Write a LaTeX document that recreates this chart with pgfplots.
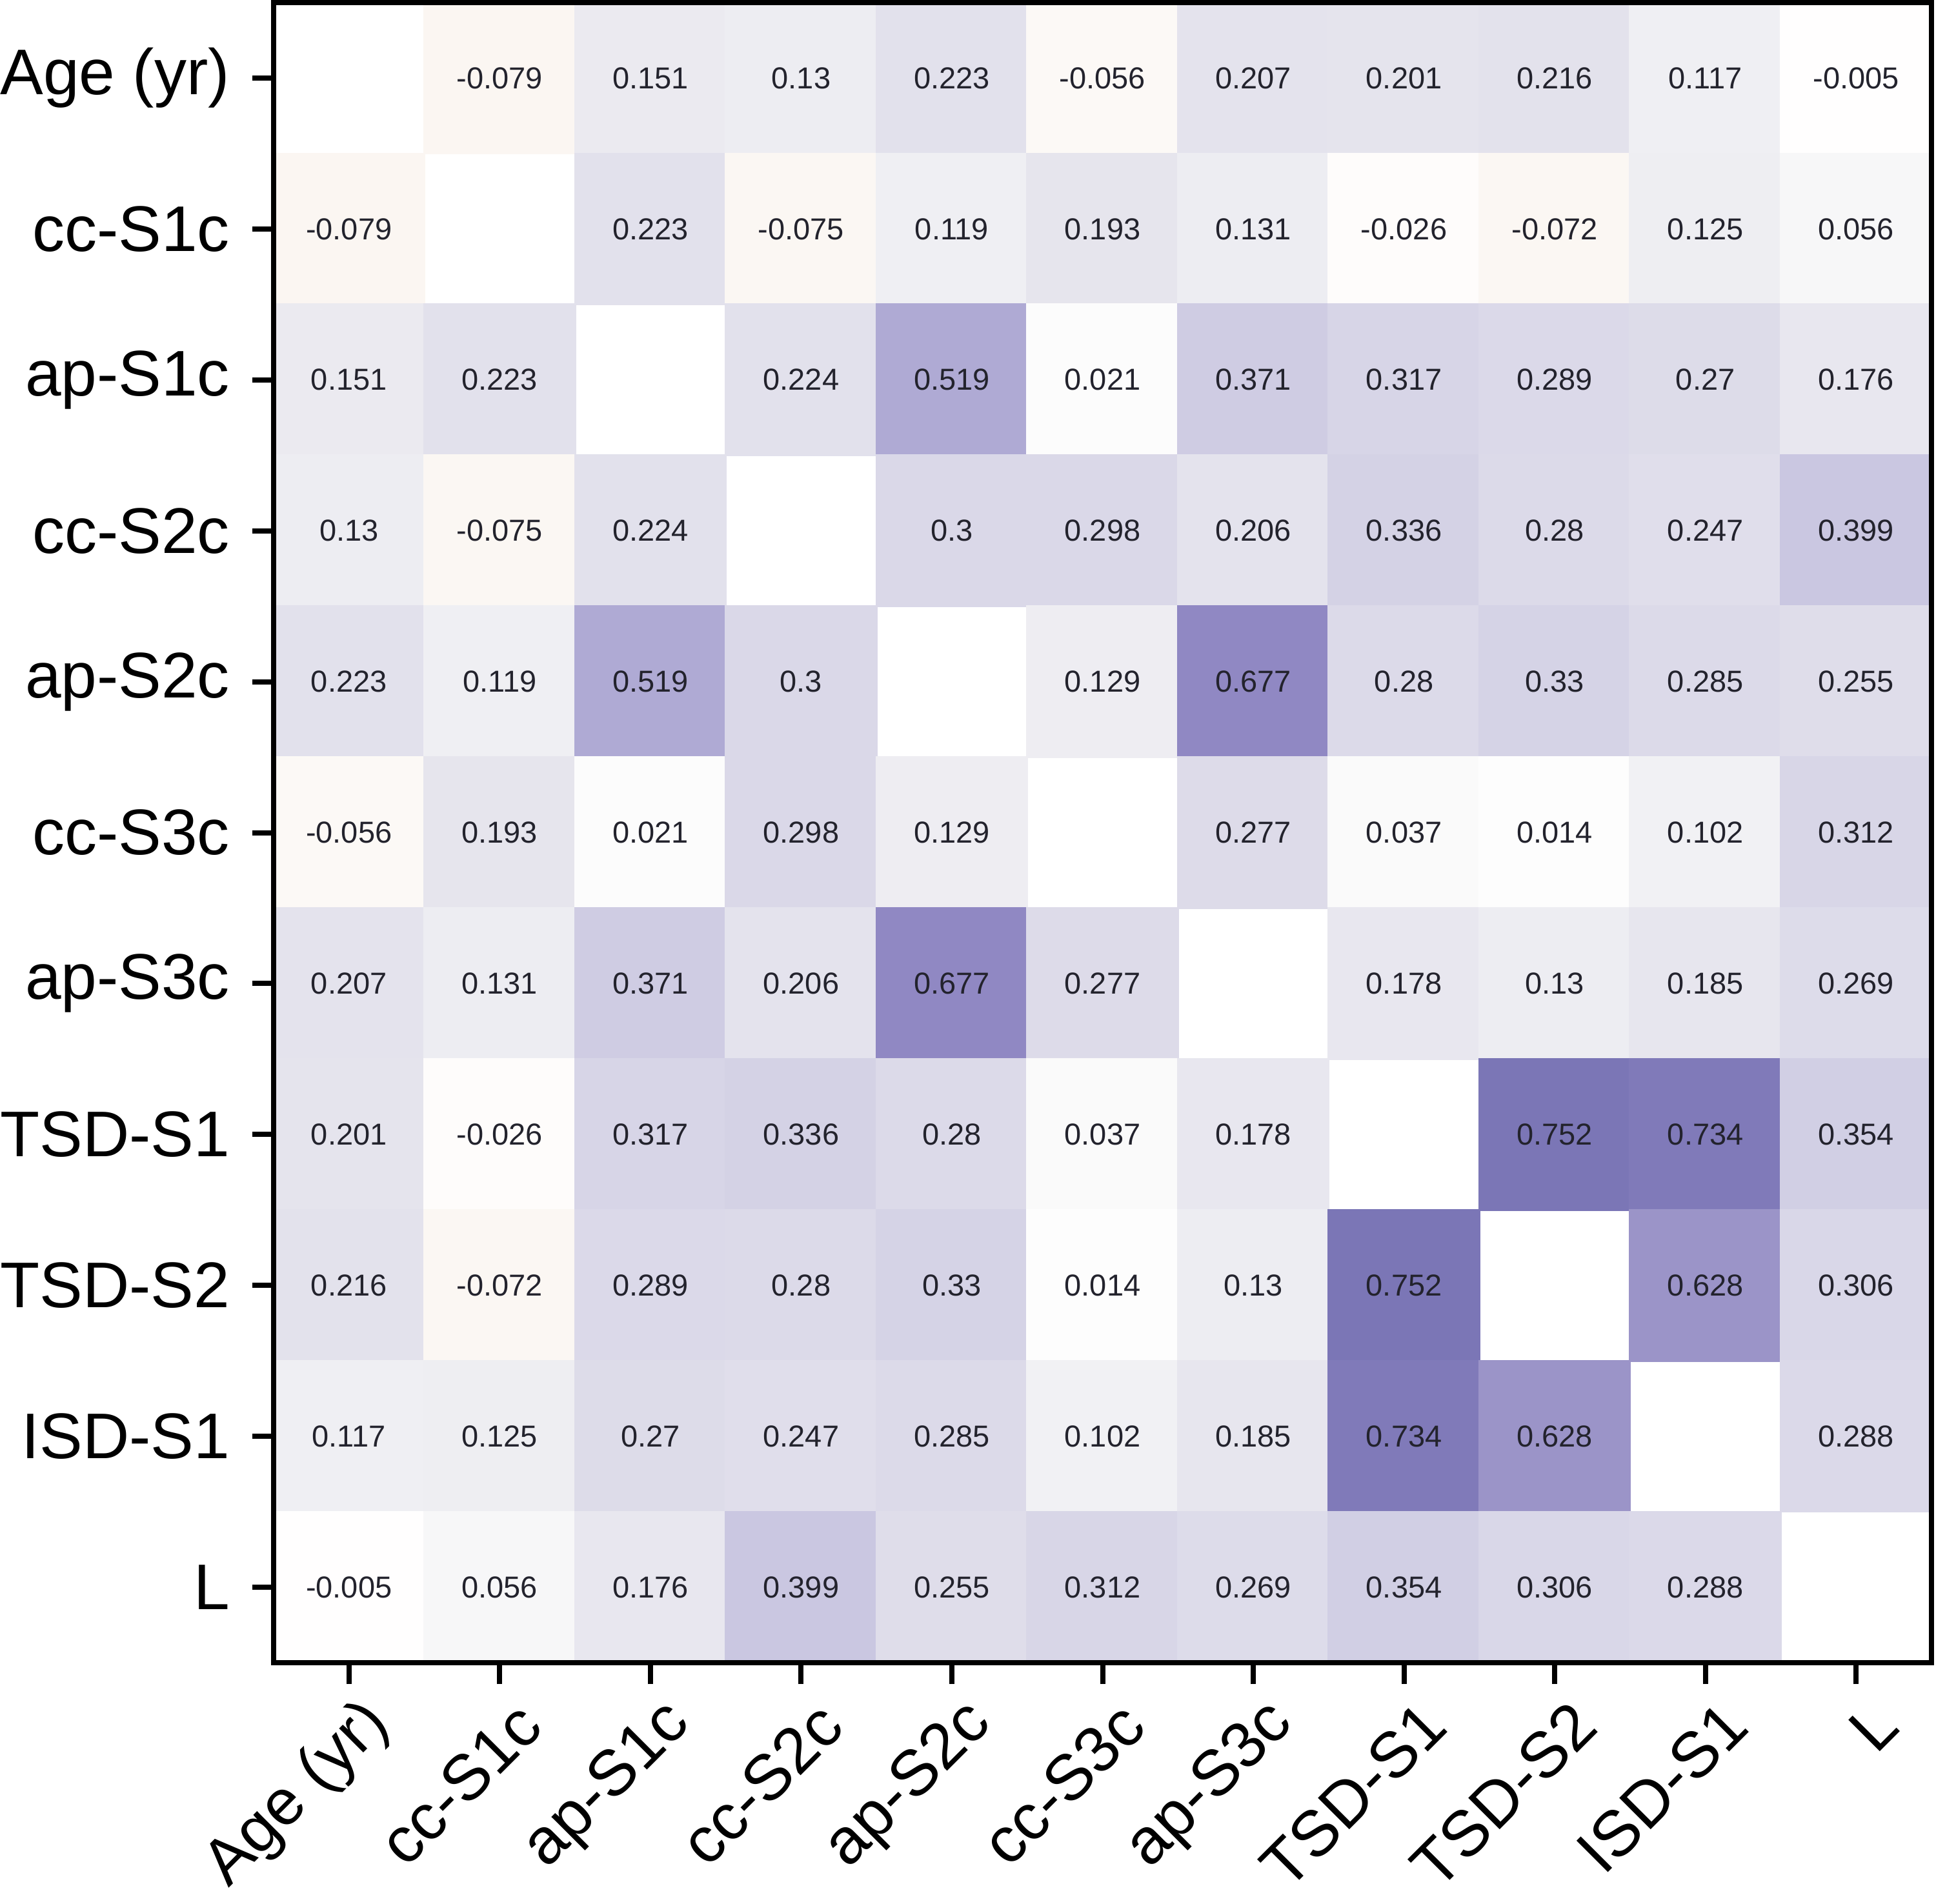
\documentclass[border=0pt]{standalone}
\usepackage{fontspec}
\setmainfont{Liberation Sans}
\usepackage{pgfplots}
\usepackage{pgfplotstable}
\pgfplotsset{compat=1.18}
\definecolor{txt}{RGB}{35,35,45}
\pgfplotsset{colormap={corrmap}{
 rgb255(0pt)=(179,88,6)
 rgb255(90pt)=(250,244,239)
 rgb255(100pt)=(255,255,255)
 rgb255(102pt)=(252,252,252)
 rgb255(110pt)=(241,241,244)
 rgb255(120pt)=(229,228,237)
 rgb255(130pt)=(218,216,232)
 rgb255(140pt)=(202,199,225)
 rgb255(152pt)=(175,170,212)
 rgb255(163pt)=(155,148,200)
 rgb255(168pt)=(143,135,195)
 rgb255(175pt)=(123,118,182)
 rgb255(200pt)=(84,60,150)
}}
% x = column index (0 = Age (yr) ... 10 = L), y = 10 - row index
\pgfplotstableread{
x y v
1 10 -0.079
2 10 0.151
3 10 0.13
4 10 0.223
5 10 -0.056
6 10 0.207
7 10 0.201
8 10 0.216
9 10 0.117
10 10 -0.005
0 9 -0.079
2 9 0.223
3 9 -0.075
4 9 0.119
5 9 0.193
6 9 0.131
7 9 -0.026
8 9 -0.072
9 9 0.125
10 9 0.056
0 8 0.151
1 8 0.223
3 8 0.224
4 8 0.519
5 8 0.021
6 8 0.371
7 8 0.317
8 8 0.289
9 8 0.27
10 8 0.176
0 7 0.13
1 7 -0.075
2 7 0.224
4 7 0.3
5 7 0.298
6 7 0.206
7 7 0.336
8 7 0.28
9 7 0.247
10 7 0.399
0 6 0.223
1 6 0.119
2 6 0.519
3 6 0.3
5 6 0.129
6 6 0.677
7 6 0.28
8 6 0.33
9 6 0.285
10 6 0.255
0 5 -0.056
1 5 0.193
2 5 0.021
3 5 0.298
4 5 0.129
6 5 0.277
7 5 0.037
8 5 0.014
9 5 0.102
10 5 0.312
0 4 0.207
1 4 0.131
2 4 0.371
3 4 0.206
4 4 0.677
5 4 0.277
7 4 0.178
8 4 0.13
9 4 0.185
10 4 0.269
0 3 0.201
1 3 -0.026
2 3 0.317
3 3 0.336
4 3 0.28
5 3 0.037
6 3 0.178
8 3 0.752
9 3 0.734
10 3 0.354
0 2 0.216
1 2 -0.072
2 2 0.289
3 2 0.28
4 2 0.33
5 2 0.014
6 2 0.13
7 2 0.752
9 2 0.628
10 2 0.306
0 1 0.117
1 1 0.125
2 1 0.27
3 1 0.247
4 1 0.285
5 1 0.102
6 1 0.185
7 1 0.734
8 1 0.628
10 1 0.288
0 0 -0.005
1 0 0.056
2 0 0.176
3 0 0.399
4 0 0.255
5 0 0.312
6 0 0.269
7 0 0.354
8 0 0.306
9 0 0.288
}\corr

\begin{document}
\begin{tikzpicture}
\begin{axis}[
  name=ax,
  set layers, axis on top,
  width=256.9pt, height=257.3pt, scale only axis,
  xmin=-0.5, xmax=10.5, ymin=-0.5, ymax=10.5,
  axis line style={line width=0.8pt, black},
  colormap name=corrmap,
  point meta min=-1, point meta max=1,
  xtick={0,...,10}, ytick={0,...,10},
  xticklabels={Age (yr), cc-S1c, ap-S1c, cc-S2c, ap-S2c, cc-S3c, ap-S3c, TSD-S1, TSD-S2, ISD-S1, L},
  yticklabels={L, ISD-S1, TSD-S2, TSD-S1, ap-S3c, cc-S3c, ap-S2c, cc-S2c, ap-S1c, cc-S1c, Age (yr)},
  tick align=outside, tick pos=left,
  major tick length=3.3pt,
  every tick/.style={black, line width=0.8pt},
  tick label style={font=\fontsize{10}{12}\selectfont, text=black},
  yticklabel style={anchor=east, inner sep=0pt, xshift=-3.3pt},
  xticklabel style={anchor=east, inner sep=0pt, xshift=4.8pt, yshift=-4.5pt, rotate=45},
]
\addplot[scatter, only marks, mark=square*, mark size=11.68pt,
  point meta=explicit,
  scatter/use mapped color={draw=mapped color, fill=mapped color},
  mark options={line width=0.3pt}]
  table[x=x, y=y, meta=v] {\corr};
\addplot[only marks, mark=none, draw=none,
  point meta=explicit symbolic,
  nodes near coords,
  every node near coord/.append style={font=\fontsize{4.7}{5}\selectfont, text=txt, anchor=center, inner sep=0pt}]
  table[x=x, y=y, meta=v] {\corr};
\end{axis}
\pgfresetboundingbox
\path[use as bounding box] ([shift={(-42.4pt,-37.3pt)}]ax.south west) rectangle ([shift={(0.7pt,0.4pt)}]ax.north east);
\end{tikzpicture}
\end{document}
